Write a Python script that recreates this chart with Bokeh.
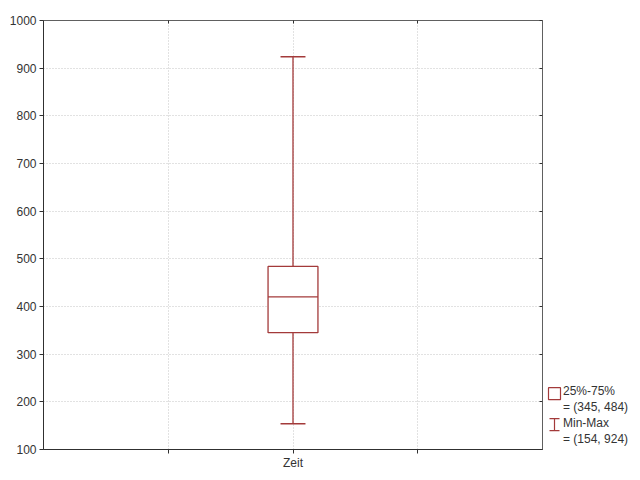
from bokeh.plotting import figure
from bokeh.models import Range1d, FixedTicker, LinearAxis, ColumnDataSource, Legend, LegendItem
from bokeh.layouts import row
from bokeh.embed import file_html
from bokeh.resources import INLINE

# ---- data ----
categories = ["Zeit"]
q1 = [345]
q3 = [484]
medians = [420]
mins = [154]
maxs = [924]
y_ticks = [100, 200, 300, 400, 500, 600, 700, 800, 900, 1000]
legend_texts = ["25%-75%", "= (345, 484)", "Min-Max", "= (154, 924)"]

FONT = "Liberation Sans"
RED = "#A33A3A"
x_pos = [i + 2 for i in range(len(categories))]
box_w = 0.4
cap_w = 0.2

src = ColumnDataSource(dict(
    x=x_pos, q1=q1, q3=q3, med=medians, lo=mins, hi=maxs,
    xl=[x - box_w / 2 for x in x_pos], xr=[x + box_w / 2 for x in x_pos],
    cl=[x - cap_w / 2 for x in x_pos], cr=[x + cap_w / 2 for x in x_pos],
))

p = figure(width=545, height=472, x_range=Range1d(0, 4), y_range=Range1d(100, 1000),
           output_backend="svg", toolbar_location=None,
           min_border_left=43, min_border_right=3, min_border_top=20, min_border_bottom=22)
p.background_fill_color = "white"
p.border_fill_color = "white"
p.outline_line_color = "#606060"
p.outline_line_width = 1

# axes
p.xaxis.ticker = FixedTicker(ticks=[1, 2, 3])
p.xaxis.major_label_overrides = {1: "", 2: categories[0], 3: ""}
p.yaxis.ticker = FixedTicker(ticks=y_ticks)
for ax in (p.xaxis[0], p.yaxis[0]):
    ax.axis_line_color = "#303030"
    ax.major_tick_line_color = "#303030"
    ax.major_tick_out = 4
    ax.major_tick_in = 0
    ax.minor_tick_line_color = None
    ax.major_label_text_font = FONT
    ax.major_label_text_font_size = "12px"
    ax.major_label_text_color = "#333333"
    ax.major_label_standoff = 3
p.xaxis.major_label_standoff = 2

# inward ticks on top and right
top_ax = LinearAxis(ticker=FixedTicker(ticks=[1, 2, 3]), major_label_text_alpha=0,
                    major_label_text_font_size="1px", axis_line_color=None,
                    major_tick_in=3, major_tick_out=0, minor_tick_line_color=None,
                    major_tick_line_color="#303030")
right_ax = LinearAxis(ticker=FixedTicker(ticks=y_ticks), major_label_text_alpha=0,
                      major_label_text_font_size="1px", axis_line_color=None,
                      major_tick_in=3, major_tick_out=0, minor_tick_line_color=None,
                      major_tick_line_color="#303030")
p.add_layout(top_ax, "above")
p.add_layout(right_ax, "right")

# grid
p.xgrid.ticker = FixedTicker(ticks=[1, 2, 3])
p.ygrid.ticker = FixedTicker(ticks=y_ticks[1:-1])
for g in (p.xgrid[0], p.ygrid[0]):
    g.grid_line_color = "#c4c4c4"
    g.grid_line_dash = "1 2"
    g.grid_line_width = 1

# box plot
p.segment(x0="x", y0="q3", x1="x", y1="hi", source=src, line_color=RED, line_width=1.3)
p.segment(x0="x", y0="q1", x1="x", y1="lo", source=src, line_color=RED, line_width=1.3)
p.segment(x0="cl", y0="hi", x1="cr", y1="hi", source=src, line_color=RED, line_width=1.3)
p.segment(x0="cl", y0="lo", x1="cr", y1="lo", source=src, line_color=RED, line_width=1.3)
p.quad(left="xl", right="xr", bottom="q1", top="q3", source=src,
       fill_color="white", line_color=RED, line_width=1.3)
p.segment(x0="xl", y0="med", x1="xr", y1="med", source=src, line_color=RED, line_width=1.3)

# ---- legend panel (frame aligned with main frame: page y 20..450) ----
lg = figure(width=95, height=472, x_range=Range1d(0, 95), y_range=Range1d(450, 20),
            x_axis_type=None, y_axis_type=None,
            output_backend="svg", toolbar_location=None,
            min_border_left=0, min_border_right=0, min_border_top=20, min_border_bottom=22)
lg.grid.visible = False
lg.outline_line_color = None
lg.border_fill_color = "white"
lg.background_fill_color = "white"

lg.rect(x=[9], y=[394], width=12, height=12, fill_color="white", line_color=RED, line_width=1.2)
lg.segment(x0=[4, 4, 9], y0=[419, 431, 419], x1=[14, 14, 9], y1=[419, 431, 431],
           line_color=RED, line_width=1.2)
blank = lg.scatter(x=[], y=[], size=0, fill_alpha=0, line_alpha=0)

legend = Legend(items=[LegendItem(label=t, renderers=[blank]) for t in legend_texts],
                location=(17, 2), glyph_width=1, glyph_height=16, label_height=16,
                label_standoff=0, spacing=0, padding=0, margin=0,
                label_text_font=FONT, label_text_font_size="12px",
                label_text_color="#333333", border_line_color=None,
                background_fill_alpha=0)
lg.add_layout(legend)

layout = row(p, lg)
open("out.html", "w").write(file_html(layout, INLINE))
